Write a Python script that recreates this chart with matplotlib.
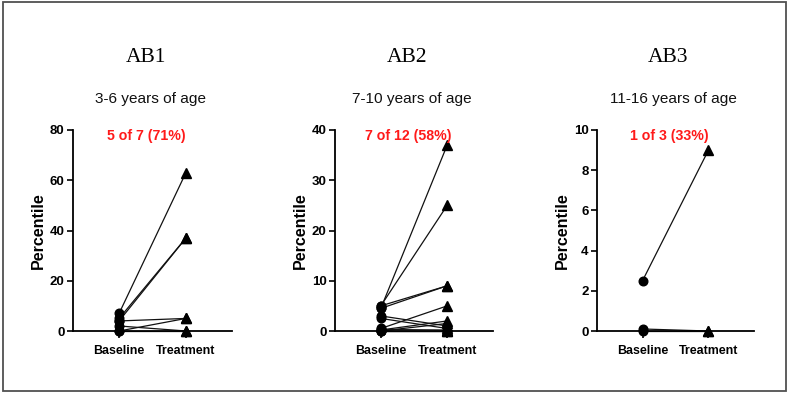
import matplotlib
matplotlib.use("Agg")
import matplotlib.pyplot as plt
from matplotlib import font_manager
from matplotlib.patches import Rectangle

# ---- data ----
categories = ["Baseline", "Treatment"]
panel_titles = ["AB1", "AB2", "AB3"]
panel_subtitles = ["3-6 years of age", "7-10 years of age", "11-16 years of age"]
panel_notes = ["5 of 7 (71%)", "7 of 12 (58%)", "1 of 3 (33%)"]

ab1_baseline = [7, 5, 4, 0, 4, 2, 0]
ab1_treatment = [63, 37, 37, 5, 5, 0, 0]

ab2_baseline = [4.5, 5, 5, 4.5, 0.5, 0.2, 0, 3, 2.5, 0.3, 0, 0]
ab2_treatment = [37, 25, 9, 9, 5, 2, 1.5, 1, 0.5, 0.2, 0, 0]

ab3_baseline = [2.5, 0.1, 0]
ab3_treatment = [9, 0, 0]

ylims = [80, 40, 10]
ysteps = [20, 10, 2]

names = {f.name for f in font_manager.fontManager.ttflist}
NARROW = "Liberation Sans Narrow" if "Liberation Sans Narrow" in names else "Liberation Sans"
narrow_scale = 1.0 if NARROW == "Liberation Sans Narrow" else 0.85

W, H = 789, 396
fig = plt.figure(figsize=(W / 100, H / 100), dpi=100)
fig.patch.set_facecolor("white")

def fx(px):
    return px / W

def fy(py):
    return 1 - py / H

# border
fig.patches.append(Rectangle((fx(3), fy(391)), fx(786) - fx(3), fy(2) - fy(391),
                             transform=fig.transFigure, fill=False,
                             edgecolor="#505050", linewidth=1.3))

axes_left_px = [73, 335, 597]
axes_width_px = [159, 158, 157]
top_px, bottom_px = 130, 331

data = [(ab1_baseline, ab1_treatment), (ab2_baseline, ab2_treatment), (ab3_baseline, ab3_treatment)]

for i in range(3):
    l = axes_left_px[i]
    w = axes_width_px[i]
    ax = fig.add_axes([fx(l), fy(bottom_px), fx(l + w) - fx(l), fy(top_px) - fy(bottom_px)])
    base, treat = data[i]
    for b, t in zip(base, treat):
        ax.plot([0, 1], [b, t], color="#111111", linewidth=0.9, clip_on=False, zorder=2)
    ax.plot([0] * len(base), base, "o", color="black", markersize=6.2, clip_on=False, zorder=3)
    ax.plot([1] * len(treat), treat, "^", color="black", markersize=6.5, clip_on=False, zorder=3)
    ax.set_xlim(-0.69, 1.69)
    ax.set_ylim(0, ylims[i])
    ax.set_yticks(list(range(0, ylims[i] + 1, ysteps[i])))
    ax.set_xticks([0, 1])
    ax.set_xticklabels(categories)
    for s in ["top", "right"]:
        ax.spines[s].set_visible(False)
    for s in ["left", "bottom"]:
        ax.spines[s].set_linewidth(1.3)
    ax.tick_params(axis="y", direction="out", length=4, width=1.2, pad=2)
    ax.tick_params(axis="x", direction="out", length=5, width=1.2, pad=5)
    for lab in ax.get_yticklabels():
        lab.set_fontfamily(NARROW)
        lab.set_fontweight("bold")
        lab.set_fontsize(11 * narrow_scale + 0.2)
    for lab in ax.get_xticklabels():
        lab.set_fontfamily(NARROW)
        lab.set_fontweight("bold")
        lab.set_fontsize(10.5 * narrow_scale)
    ax.set_ylabel("Percentile", fontfamily="Liberation Sans", fontweight="bold", fontsize=11.5, labelpad=3)
    ax.set_facecolor("none")
    cx = l + w / 2
    fig.text(fx(cx - 7), fy(57), panel_titles[i], ha="center", va="center",
             fontfamily="Liberation Serif", fontsize=15.5)
    fig.text(fx(cx - 2), fy(99), panel_subtitles[i], ha="center", va="center",
             fontfamily=NARROW, fontsize=13 * narrow_scale, color="#111111")
    fig.text(fx(cx - 6), fy(136), panel_notes[i], ha="center", va="center",
             fontfamily=NARROW, fontweight="bold", fontsize=12 * narrow_scale, color="#ff1a1a")

fig.savefig("out.png", dpi=100)
